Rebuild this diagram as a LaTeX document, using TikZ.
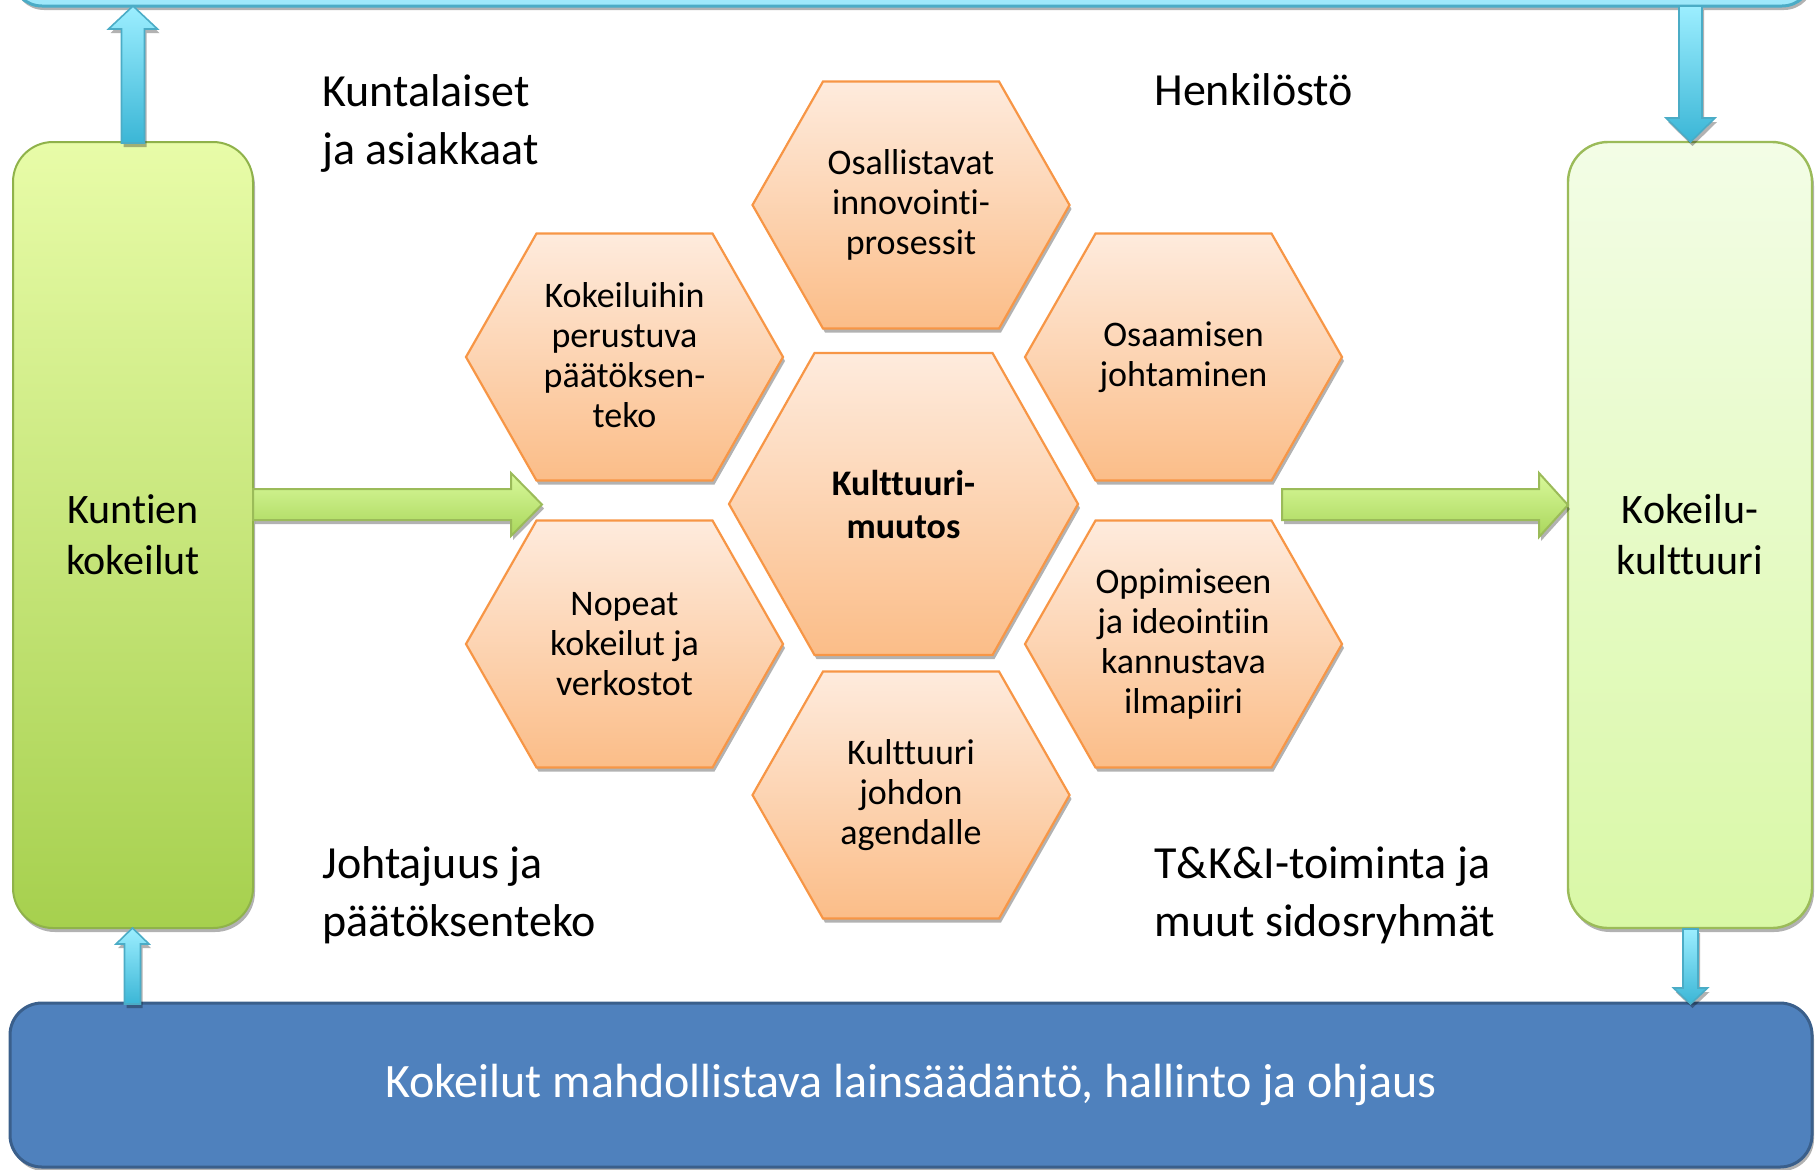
\documentclass[tikz,border=0pt]{standalone}
\usepackage{fontspec}
\setmainfont{Carlito}[Ligatures=NoCommon]
\usetikzlibrary{shadows}
\definecolor{hexTop}{HTML}{FEEBDD}
\definecolor{hexBot}{HTML}{FBBD88}
\definecolor{hexLine}{HTML}{F79646}
\definecolor{lgTop}{HTML}{E8FCA8}
\definecolor{lgBot}{HTML}{A6D04E}
\definecolor{lgLine}{HTML}{8FB24A}
\definecolor{rgTop}{HTML}{F3FDE6}
\definecolor{rgBot}{HTML}{D9F8A6}
\definecolor{rgLine}{HTML}{9BBB59}
\definecolor{cyTop}{HTML}{9CEEFF}
\definecolor{cyBot}{HTML}{3BB6D6}
\definecolor{cyLine}{HTML}{4BACC6}
\definecolor{barCy}{HTML}{9EE8FA}
\definecolor{gaTop}{HTML}{D9F99B}
\definecolor{gaBot}{HTML}{A9D65B}
\definecolor{blueFill}{HTML}{4F81BD}
\definecolor{blueLine}{HTML}{3A5F8B}
\tikzset{
  shad/.style={drop shadow={shadow xshift=1pt,shadow yshift=-2pt,opacity=0.3,fill=black}},
  hexshape/.style={shad,top color=hexTop,bottom color=hexBot,draw=hexLine,line width=1.1pt,line join=miter},
  hextext/.style={align=center,font=\fontsize{18}{20}\selectfont,text=black},
  cyarrow/.style={shad,top color=cyTop,bottom color=cyBot,draw=cyLine,line width=0.8pt},
  grarrow/.style={shad,top color=gaTop,bottom color=gaBot,draw=rgLine,line width=1pt},
  label/.style={anchor=base west,align=left,font=\fontsize{23}{29}\selectfont,inner sep=0pt},
  boxtext/.style={align=center,font=\fontsize{21}{25.5}\selectfont},
}
\newcommand\hexpath[5]{({#1-#3},#2) -- ({#1-#4},{#2-#5}) -- ({#1+#4},{#2-#5}) -- ({#1+#3},#2) -- ({#1+#4},{#2+#5}) -- ({#1-#4},{#2+#5}) -- cycle}
\begin{document}
\begin{tikzpicture}[x=0.5pt,y=-0.5pt]
\useasboundingbox (0,0) rectangle (1820,1169);
\begin{scope}
\clip (0,0) rectangle (1820,1169);
% top bar
\node (topbar) [shad,draw=cyLine,fill=barCy,line width=1.5pt,rounded corners=15pt,minimum width=900pt,minimum height=35pt,inner sep=0pt] at (912,-29) {};
% bottom bar
\node (botbar) [shad,draw=blueLine,fill=blueFill,line width=1.5pt,rounded corners=16pt,minimum width=901pt,minimum height=82pt,inner sep=0pt,text=white,font=\fontsize{24}{28}\selectfont] at (911,1085) {Kokeilut mahdollistava lainsäädäntö, hallinto ja ohjaus};
\end{scope}
% side boxes
\node (left) [shad,draw=lgLine,top color=lgTop,bottom color=lgBot,line width=1pt,rounded corners=20pt,minimum width=120pt,minimum height=393pt,inner sep=0pt,boxtext] at (133,535) {Kuntien\\kokeilut};
\node (right) [shad,draw=rgLine,top color=rgTop,bottom color=rgBot,line width=1.2pt,rounded corners=20pt,minimum width=122pt,minimum height=393pt,inner sep=0pt,boxtext] at (1690,535) {Kokeilu-\\kulttuuri};
% cyan arrows
\draw[cyarrow] (121.5,143) -- (121.5,29) -- (108.5,29) -- (133,6) -- (157.5,29) -- (144.5,29) -- (144.5,143) -- cycle;
\draw[cyarrow] (1679,6) -- (1679,118) -- (1666,118) -- (1690.5,142) -- (1715,118) -- (1702,118) -- (1702,6) -- cycle;
\draw[cyarrow] (124.5,1004) -- (124.5,944) -- (116,944) -- (132.5,928) -- (149,944) -- (140.5,944) -- (140.5,1004) -- cycle;
\draw[cyarrow] (1683,929) -- (1683,988) -- (1673.5,988) -- (1690.5,1004) -- (1707.5,988) -- (1698,988) -- (1698,929) -- cycle;
% green arrows
\draw[grarrow] (253,489) -- (511,489) -- (511,473) -- (542,504.5) -- (511,536) -- (511,520) -- (253,520) -- cycle;
\draw[grarrow] (1282,489) -- (1539,489) -- (1539,473) -- (1568,505) -- (1539,537) -- (1539,520) -- (1282,520) -- cycle;
% hexagons
\draw[hexshape] \hexpath{911}{205}{158.5}{88}{123.5};
\draw[hexshape] \hexpath{624.5}{357}{158.5}{88}{123.5};
\draw[hexshape] \hexpath{1183.5}{357}{158.5}{88}{123.5};
\draw[hexshape] \hexpath{624.5}{644}{158.5}{88}{123.5};
\draw[hexshape] \hexpath{1183.5}{644}{158.5}{88}{123.5};
\draw[hexshape] \hexpath{911}{795}{158.5}{88}{123.5};
\draw[hexshape] \hexpath{903.5}{504}{174.5}{89}{151};
\node (h1) [hextext] at (911,205) {Osallistavat\\innovointi-\\prosessit};
\node (h2) [hextext] at (624.5,355) {Kokeiluihin\\perustuva\\päätöksen-\\teko};
\node (h3) [hextext] at (1183.5,357) {Osaamisen\\johtaminen};
\node (h4) [hextext] at (624.5,644) {Nopeat\\kokeilut ja\\verkostot};
\node (h5) [hextext] at (1183.5,644) {Oppimiseen\\ja ideointiin\\kannustava\\ilmapiiri};
\node (h6) [hextext] at (911,795) {Kulttuuri\\johdon\\agendalle};
\node (hc) [hextext,font=\fontsize{18}{21.5}\selectfont\bfseries] at (903.5,504) {Kulttuuri-\\muutos};
% labels (base anchor = baseline of last line)
\node (l1) [label] at (322,164) {Kuntalaiset\\ja asiakkaat};
\node (l2) [label] at (1154,105) {Henkilöstö};
\node (l3) [label] at (322,936) {Johtajuus ja\\päätöksenteko};
\node (l4) [label] at (1154,936) {T\&K\&I-toiminta ja\\muut sidosryhmät};
\end{tikzpicture}
\end{document}
